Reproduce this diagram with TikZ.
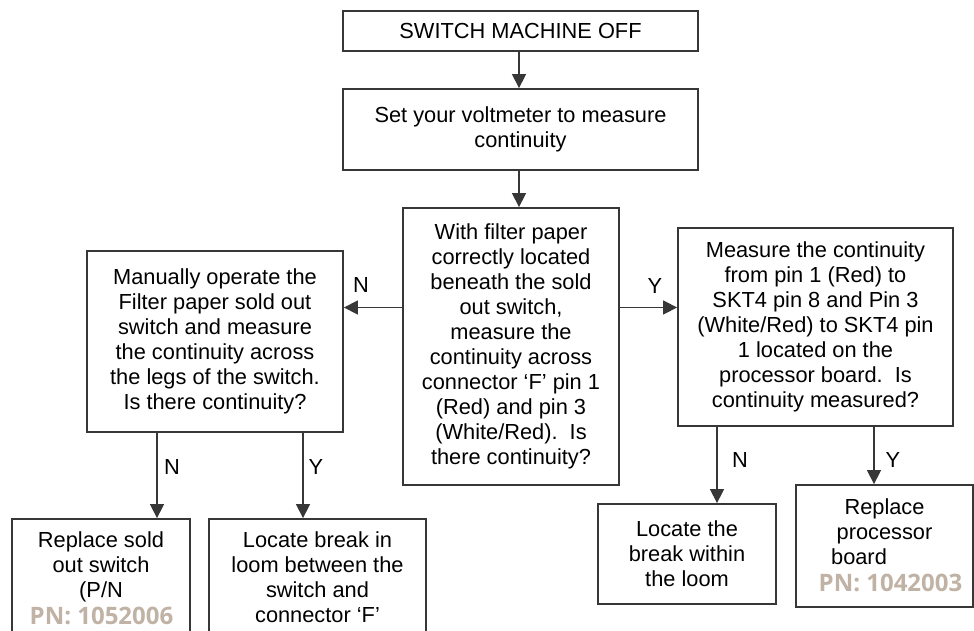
\documentclass[tikz,border=0pt]{standalone}
\usepackage{fontspec}
\setmainfont{Liberation Sans}
\newfontfamily\pnfont{Open Sans}
\usetikzlibrary{arrows.meta}
\definecolor{linec}{RGB}{55,55,55}
\definecolor{pncol}{RGB}{192,178,164}
\tikzset{
  box/.style={draw=linec, line width=1.8pt, align=center, inner sep=0pt,
    font=\fontsize{21.8}{25}\selectfont},
  txt/.style={align=center, inner sep=0pt, font=\fontsize{21.8}{25}\selectfont},
  arr/.style={draw=linec, line width=1.4pt, -{Triangle[length=14pt,width=14pt]}},
  lbl/.style={inner sep=0pt, font=\fontsize{21.8}{25}\selectfont},
  pn/.style={fill=white, inner sep=1pt, text=pncol, font=\fontsize{24}{26}\pnfont\bfseries}
}
\begin{document}
\begin{tikzpicture}[x=1pt,y=-1pt]
\useasboundingbox (0,0) rectangle (974,631);
\clip (0,0) rectangle (974,631);
\fill[white] (0,0) rectangle (974,631);

\node[box, minimum width=355pt, minimum height=40pt] (b1) at (520.5,31) {SWITCH MACHINE OFF};
\node[box, minimum width=355pt, minimum height=81pt] (b2) at (520.5,129.5) {Set your voltmeter to measure\\continuity};
\node[box, minimum width=216pt, minimum height=277pt] (b3) at (511,346.5) {With filter paper\\correctly located\\beneath the sold\\out switch,\\measure the\\continuity across\\connector ‘F’ pin 1\\(Red) and pin 3\\(White/Red).~~Is\\there continuity?};
\node[box, minimum width=256pt, minimum height=181pt] (b4) at (215,341.5) {Manually operate the\\Filter paper sold out\\switch and measure\\the continuity across\\the legs of the switch.\\Is there continuity?};
\node[box, minimum width=275pt, minimum height=198pt] (b5) at (815.5,327) {Measure the continuity\\from pin 1 (Red) to\\SKT4 pin 8 and Pin 3\\(White/Red) to SKT4 pin\\1 located on the\\processor board.~~Is\\continuity measured?};

\node[box, minimum width=178pt, minimum height=131pt] (b6) at (101,584.5) {};
\node[txt, anchor=north] (b6t) at ([yshift=-13.5pt]b6.north) {Replace sold\\out switch\\(P/N};
\node[box, minimum width=217pt, minimum height=131pt] (b7) at (317.5,584.5) {};
\node[txt, anchor=north] (b7t) at ([yshift=-13.5pt]b7.north) {Locate break in\\loom between the\\switch and\\connector ‘F’};
\node[box, minimum width=178pt, minimum height=100pt] (b8) at (687,554) {Locate the\\break within\\the loom};
\node[box, minimum width=177pt, minimum height=122pt] (b9) at (884.5,546) {};
\node[txt] (b9t) at ([yshift=14pt]b9.center) {Replace\\processor\\board\rule{51pt}{0pt}};

\node[pn] (pn1) at (101.5,616) {PN: 1052006};
\node[pn] (pn2) at (890.5,583) {PN: 1042003};

\coordinate (cx) at (519,0);
\coordinate (rowA) at (0,307.5);
\coordinate (c4n) at (157,0);
\coordinate (c4y) at (303,0);
\coordinate (c5n) at (717,0);
\coordinate (c5y) at (874,0);

\draw[arr] (b1.south -| cx) -- (b2.north -| cx);
\draw[arr] (b2.south -| cx) -- (b3.north -| cx);
\draw[arr] (b3.west |- rowA) -- (b4.east |- rowA);
\draw[arr] (b3.east |- rowA) -- (b5.west |- rowA);
\draw[arr] (b4.south -| c4n) -- (b6.north -| c4n);
\draw[arr] (b4.south -| c4y) -- (b7.north -| c4y);
\draw[arr] (b5.south -| c5n) -- (b8.north -| c5n);
\draw[arr] (b5.south -| c5y) -- (b9.north -| c5y);

\node[lbl] (l1) at (361,285) {N};
\node[lbl] (l2) at (655,286) {Y};
\node[lbl] (l3) at (172,467) {N};
\node[lbl] (l4) at (316,467) {Y};
\node[lbl] (l5) at (740,460) {N};
\node[lbl] (l6) at (893,460) {Y};
\end{tikzpicture}
\end{document}
